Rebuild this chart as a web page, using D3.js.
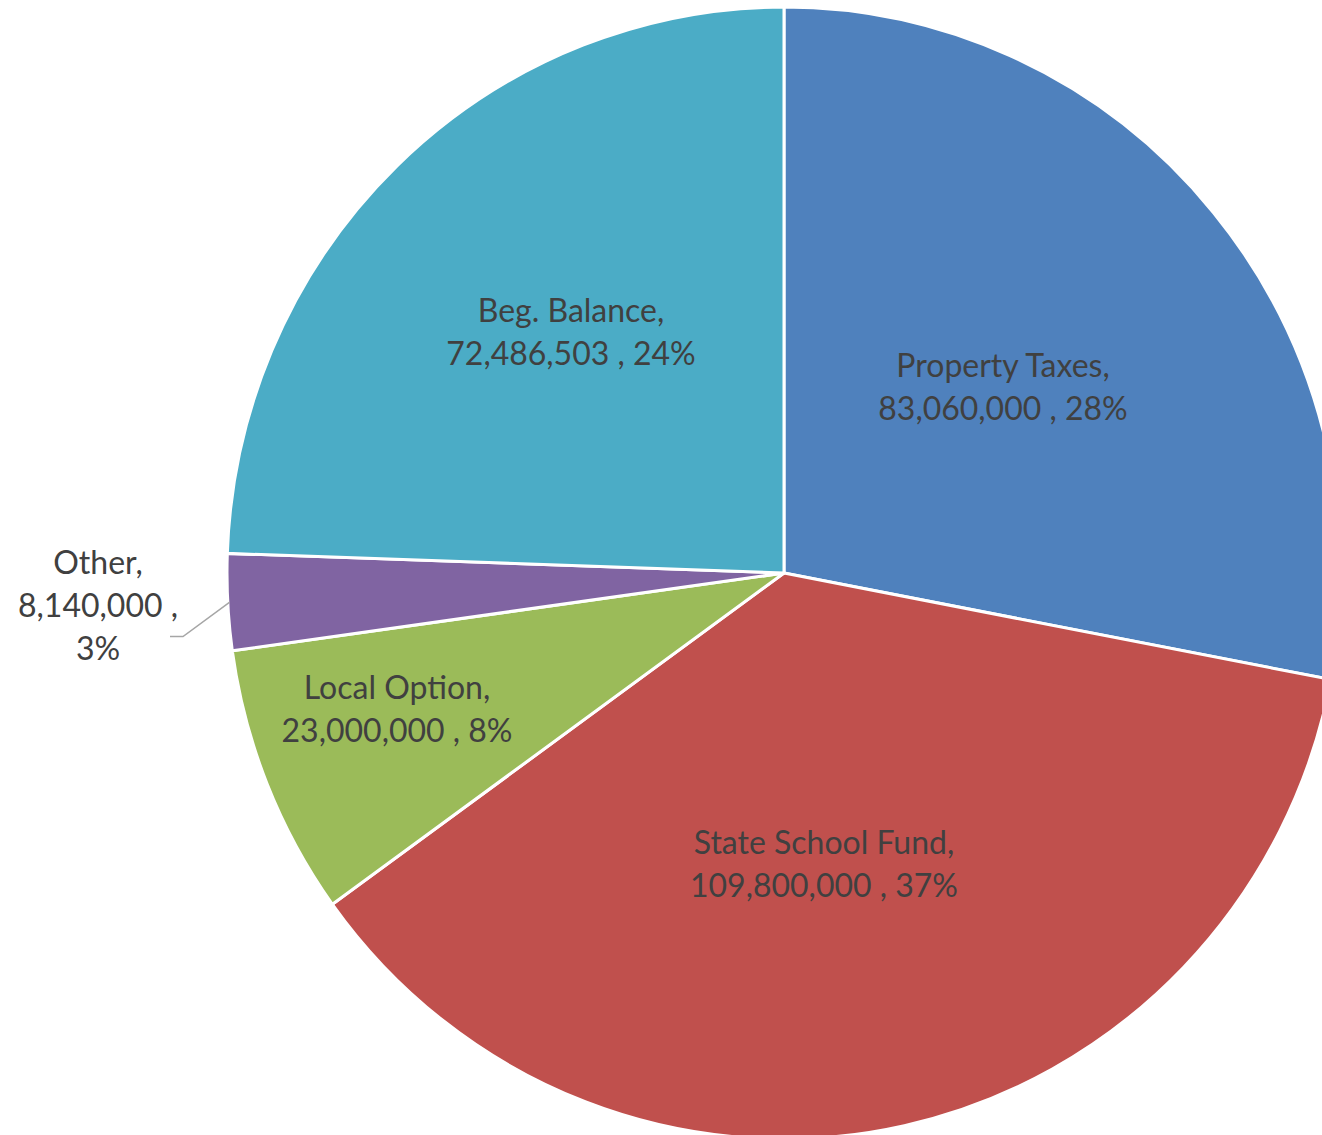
<!DOCTYPE html>
<html>
<head>
<meta charset="utf-8">
<script src="https://cdn.jsdelivr.net/npm/d3@7"></script>
<style>
  html, body { margin: 0; padding: 0; background: #ffffff; }
  svg { display: block; }
</style>
</head>
<body>
<svg id="chart" width="1322" height="1135"></svg>
<script>
// Revenue sources, in slice order clockwise from 12 o'clock
const categories = ["Property Taxes", "State School Fund", "Local Option", "Other", "Beg. Balance"];
const values = [83060000, 109800000, 23000000, 8140000, 72486503];
const colors = ["#4F81BD", "#C0504D", "#9BBB59", "#8064A2", "#4BACC6"];

// Label block centres, relative to the pie centre (layout only)
const labelOffsets = [[219, -185.5], [40, 291.5], [-387, 136.5], [-686, 32.5], [-213, -240.5]];

const W = 1322, H = 1135;
const cx = 784, cy = 573;
const rx = 557, ry = 566;
const lineH = 43;
const fontSize = 32;

const svg = d3.select("#chart");
const total = d3.sum(values);
const fmt = d3.format(",");

const pie = d3.pie().sort(null).value(d => d).startAngle(0).endAngle(2 * Math.PI);
const arcs = pie(values);
const arc = d3.arc().innerRadius(0).outerRadius(rx);

// slightly taller than wide
const g = svg.append("g")
  .attr("transform", `translate(${cx},${cy}) scale(1,${ry / rx})`);

g.selectAll("path.slice")
  .data(arcs)
  .join("path")
  .attr("class", "slice")
  .attr("d", arc)
  .attr("fill", (d, i) => colors[i])
  .attr("stroke", "#ffffff")
  .attr("stroke-width", 3)
  .attr("stroke-linejoin", "round");

// label text
function labelLines(i) {
  const pct = Math.round(values[i] / total * 100) + "%";
  if (categories[i] === "Other") {
    return [categories[i] + ",", fmt(values[i]) + " ,", pct];
  }
  return [categories[i] + ",", fmt(values[i]) + " , " + pct];
}

const labels = svg.append("g")
  .attr("font-family", "Lato, 'Open Sans', sans-serif")
  .attr("font-size", fontSize)
  .attr("fill", "#404040")
  .attr("text-anchor", "middle");

arcs.forEach((d, i) => {
  const lines = labelLines(i);
  const bx = cx + labelOffsets[i][0];
  const by = cy + labelOffsets[i][1];
  const first = by - (lines.length - 1) * lineH / 2;
  const t = labels.append("text");
  lines.forEach((ln, k) => {
    t.append("tspan")
      .attr("x", bx)
      .attr("y", first + k * lineH + 11)
      .text(ln);
  });
});

// leader line for the small "Other" slice
const otherIdx = categories.indexOf("Other");
const od = arcs[otherIdx];
const mid = (od.startAngle + od.endAngle) / 2;
const ex = cx + Math.sin(mid) * (rx - 2);
const ey = cy - Math.cos(mid) * (ry - 2);
const lbx = cx + labelOffsets[otherIdx][0];
const lby = cy + labelOffsets[otherIdx][1];
svg.append("path")
  .attr("d", d3.line()([[ex, ey], [lbx + 85, lby + 31], [lbx + 72, lby + 31]]))
  .attr("fill", "none")
  .attr("stroke", "#a6a6a6")
  .attr("stroke-width", 1.5);
</script>
</body>
</html>
